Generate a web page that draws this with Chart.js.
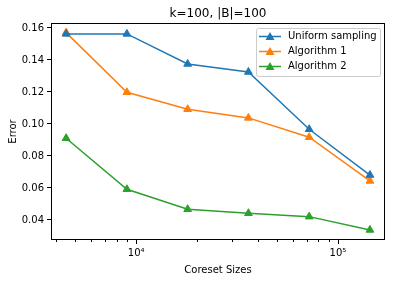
<!DOCTYPE html>
<html>
<head>
<meta charset="utf-8">
<script src="https://cdn.jsdelivr.net/npm/chart.js@4/dist/chart.umd.min.js"></script>
<style>
  html, body { margin: 0; padding: 0; background: #fff; }
  #wrap { width: 395px; height: 282px; }
</style>
</head>
<body>
<div id="wrap"><canvas id="my-chart"></canvas></div>
<script>
// data
const coresetSizes = [4500, 9000, 18000, 36000, 72000, 144000];
const uniformErr = [0.1563, 0.1563, 0.1375, 0.1325, 0.0967, 0.0681];
const algo1Err = [0.1571, 0.1198, 0.1092, 0.1038, 0.0917, 0.0644];
const algo2Err = [0.0911, 0.0592, 0.0467, 0.0442, 0.0421, 0.0338];
const yTicks = [0.04, 0.06, 0.08, 0.10, 0.12, 0.14, 0.16];
const seriesNames = ['Uniform sampling', 'Algorithm 1', 'Algorithm 2'];
const colors = ['#1f77b4', '#ff7f0e', '#2ca02c'];

const FONT = '"DejaVu Sans", sans-serif';
const sup = { '0': '⁰', '1': '¹', '2': '²', '3': '³', '4': '⁴', '5': '⁵', '6': '⁶' };

function mkSet(label, vals, color) {
  return {
    label: label,
    data: coresetSizes.map((x, i) => ({ x: x, y: vals[i] })),
    borderColor: color,
    backgroundColor: color,
    borderWidth: 1.5,
    pointStyle: 'triangle',
    pointRadius: 4.5,
    pointHoverRadius: 4.5,
    pointBorderWidth: 1,
    tension: 0
  };
}

// frame, x minor ticks, title and legend
const extras = {
  id: 'extras',
  afterDraw(chart) {
    const ctx = chart.ctx;
    const a = chart.chartArea;
    const xs = chart.scales.x;
    ctx.save();
    ctx.strokeStyle = '#000';
    ctx.lineWidth = 1;
    ctx.strokeRect(a.left + 0.5, a.top + 0.5, a.right - a.left - 1, a.bottom - a.top - 1);
    // x ticks, major longer than minor
    xs.ticks.forEach(t => {
      const px = Math.round(xs.getPixelForValue(t.value)) + 0.5;
      const len = t.major ? 4 : 2;
      ctx.beginPath();
      ctx.moveTo(px, a.bottom);
      ctx.lineTo(px, a.bottom + len);
      ctx.stroke();
    });
    // title
    ctx.fillStyle = '#000';
    ctx.font = '12px ' + FONT;
    ctx.textAlign = 'center';
    ctx.textBaseline = 'middle';
    ctx.fillText('k=100, |B|=100', (a.left + a.right) / 2, 14);
    // legend
    const bx = a.right - 129, by = a.top + 5, bw = 124, bh = 48;
    ctx.fillStyle = 'rgba(255,255,255,0.8)';
    ctx.strokeStyle = '#cccccc';
    ctx.beginPath();
    ctx.roundRect(bx + 0.5, by + 0.5, bw, bh, 2);
    ctx.fill();
    ctx.stroke();
    ctx.font = '10px ' + FONT;
    ctx.textAlign = 'left';
    seriesNames.forEach((name, i) => {
      const ly = by + 8.5 + i * 15;
      ctx.strokeStyle = colors[i];
      ctx.lineWidth = 1.5;
      ctx.beginPath();
      ctx.moveTo(bx + 3, ly);
      ctx.lineTo(bx + 25, ly);
      ctx.stroke();
      ctx.fillStyle = colors[i];
      ctx.beginPath();
      ctx.moveTo(bx + 14, ly - 4.5);
      ctx.lineTo(bx + 18.5, ly + 3.5);
      ctx.lineTo(bx + 9.5, ly + 3.5);
      ctx.closePath();
      ctx.fill();
      ctx.fillStyle = '#000';
      ctx.fillText(name, bx + 32, ly);
    });
    ctx.restore();
  }
};

new Chart(document.getElementById('my-chart'), {
  type: 'line',
  data: {
    datasets: [
      mkSet(seriesNames[0], uniformErr, colors[0]),
      mkSet(seriesNames[1], algo1Err, colors[1]),
      mkSet(seriesNames[2], algo2Err, colors[2])
    ]
  },
  plugins: [extras],
  options: {
    responsive: true,
    maintainAspectRatio: false,
    animation: false,
    events: [],
    layout: { padding: { top: 23, right: 10, left: 0, bottom: 0 } },
    plugins: {
      legend: { display: false },
      title: { display: false },
      tooltip: { enabled: false }
    },
    scales: {
      x: {
        type: 'logarithmic',
        min: 3786,
        max: 171000,
        afterBuildTicks(scale) {
          const ticks = [];
          for (let e = 3; e <= 5; e++) {
            for (let m = 1; m <= 9; m++) {
              const v = m * Math.pow(10, e);
              if (v >= scale.min && v <= scale.max) ticks.push({ value: v, major: m === 1 });
            }
          }
          scale.ticks = ticks;
        },
        afterFit(scale) { scale.height = 42; },
        grid: { drawOnChartArea: false, tickLength: 4, tickColor: 'rgba(0,0,0,0)' },
        border: { display: false },
        ticks: {
          autoSkip: false,
          maxRotation: 0,
          padding: 3,
          color: '#000',
          font: { family: FONT, size: 10 },
          callback(value) {
            const e = Math.log10(value);
            if (Math.abs(e - Math.round(e)) < 1e-9) {
              return '10' + String(Math.round(e)).split('').map(c => sup[c]).join('');
            }
            return '';
          }
        },
        title: {
          display: true,
          text: 'Coreset Sizes',
          color: '#000',
          font: { family: FONT, size: 10 },
          padding: { top: 4, bottom: 6 }
        }
      },
      y: {
        type: 'linear',
        min: 0.0275,
        max: 0.1631,
        afterBuildTicks(scale) {
          scale.ticks = yTicks.map(v => ({ value: v }));
        },
        afterFit(scale) { scale.width = 51; },
        grid: { drawOnChartArea: false, tickLength: 4, tickColor: '#000' },
        border: { display: false },
        ticks: {
          padding: 3,
          color: '#000',
          font: { family: FONT, size: 10 },
          callback(value) { return value.toFixed(2); }
        },
        title: {
          display: true,
          text: 'Error',
          color: '#000',
          font: { family: FONT, size: 10 },
          padding: { top: 7, bottom: 2 }
        }
      }
    }
  }
});
</script>
</body>
</html>
